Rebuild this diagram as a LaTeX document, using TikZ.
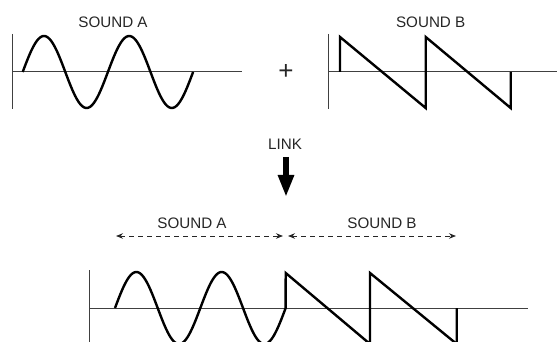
\documentclass[tikz,border=0pt]{standalone}
\usepackage{fontspec}
\setmainfont{Liberation Sans}
\usetikzlibrary{arrows.meta}
\tikzset{
  axisline/.style={line width=1pt, draw=black!75},
  wave/.style={line width=2.4pt, line join=miter},
  lbl/.style={font=\fontsize{15.2}{17}\selectfont, inner sep=0pt, text=black!85},
  spanarrow/.style={line width=0.9pt, draw=black!85, dash pattern=on 5pt off 4pt, {Stealth[length=7pt,width=5.5pt]}-{Stealth[length=7pt,width=5.5pt]}},
  linkarrow/.style={line width=5.5pt, -{Triangle[length=22pt,width=15pt]}}
}
\begin{document}
\begin{tikzpicture}[x=1pt,y=1pt]
\useasboundingbox (0,0) rectangle (557,-342);

% ---- top left: sound A ----
\node[lbl] (labA) at (113,-22) {SOUND A};
\draw[axisline] (12,-34) -- (12,-109);
\draw[axisline] (12,-72) -- (242,-72);
\draw[wave] plot[domain=0:720, samples=121, smooth] ({22.7+\x/180*42.6},{-72+36*sin(\x)});

% ---- plus ----
\node[lbl, font=\fontsize{26}{28}\selectfont] (plus) at (286,-72) {+};

% ---- top right: sound B ----
\node[lbl] (labB) at (430.7,-22) {SOUND B};
\draw[axisline] (328,-34) -- (328,-109);
\draw[axisline] (328,-72) -- (557,-72);
\draw[wave] (340,-72) -- (340,-37) -- (425.7,-108) -- (425.7,-37) -- (510.7,-108) -- (510.7,-72);

% ---- LINK arrow ----
\node[lbl] (link) at (285,-144) {LINK};
\coordinate (ls) at (286,-157);
\coordinate (le) at (286,-197);
\draw[linkarrow] (ls) -- (le);

% ---- span arrows ----
\node[lbl] (labA2) at (192,-223) {SOUND A};
\node[lbl] (labB2) at (382,-223) {SOUND B};
\coordinate (a1) at (116,-236);
\coordinate (a2) at (283,-236);
\coordinate (b1) at (288,-236);
\coordinate (b2) at (456,-236);
\draw[spanarrow] (a1) -- (a2);
\draw[spanarrow] (b1) -- (b2);

% ---- bottom combined waveform ----
\draw[axisline] (89,-270) -- (89,-342);
\draw[axisline] (89,-308) -- (527.7,-308);
\draw[wave] plot[domain=0:720, samples=121, smooth] ({115+\x/180*42.67},{-308+36*sin(\x)})
  -- (285.7,-273) -- (370,-344) -- (370,-273) -- (456.7,-344) -- (456.7,-308);
\end{tikzpicture}
\end{document}
